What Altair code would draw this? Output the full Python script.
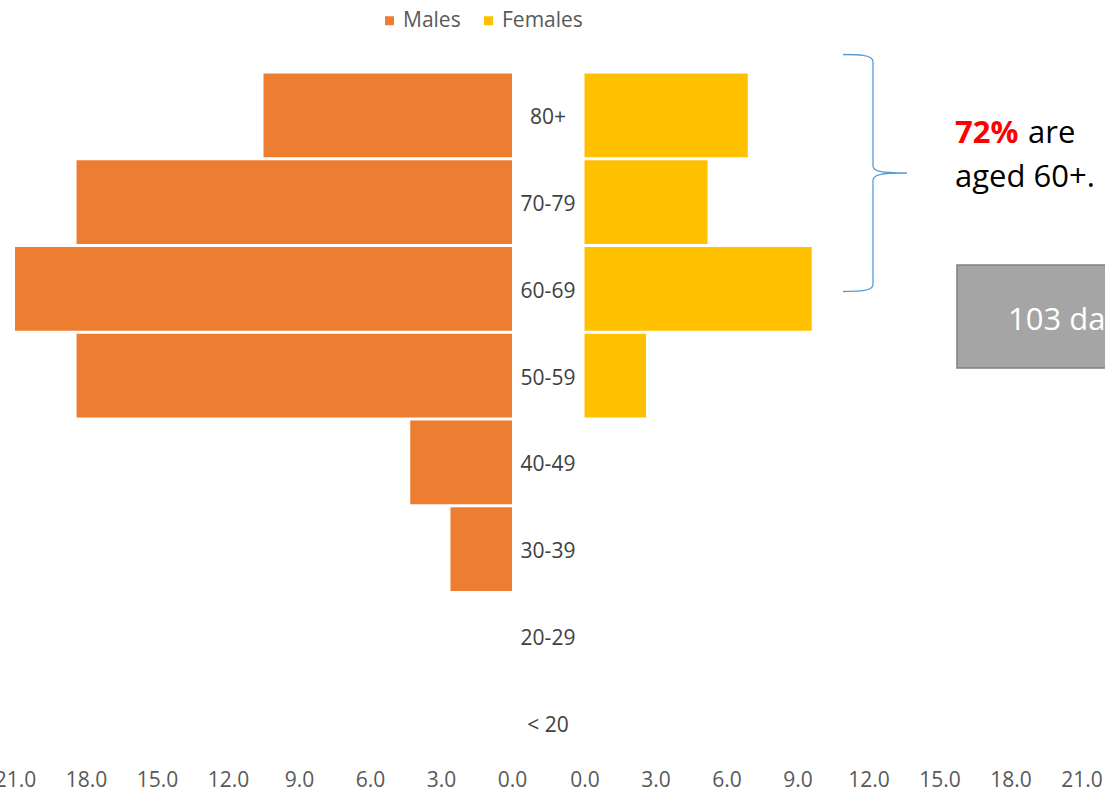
import altair as alt
import pandas as pd

# Age bands, top to bottom
ages = ["80+", "70-79", "60-69", "50-59", "40-49", "30-39", "20-29", "< 20"]
# Share of cases (%) per age band
males = [10.5, 18.4, 21.0, 18.4, 4.3, 2.6, 0.0, 0.0]
females = [6.9, 5.2, 9.6, 2.6, 0.0, 0.0, 0.0, 0.0]

sexes = ["Males", "Females"]
sex_colors = ["#ED7D31", "#FFC000"]
tick_values = [0, 3, 6, 9, 12, 15, 18, 21]

# Call-out texts
pct_note = ["72%"]
are_note = ["are"]
aged_note = ["aged 60+."]
box_note = ["103 data points"]

FONT = "Open Sans"

df = pd.DataFrame({
    "age": ages * 2,
    "sex": ["Males"] * len(ages) + ["Females"] * len(ages),
    "pct": males + females,
})

y_enc = alt.Y(
    "age:N",
    sort=ages,
    axis=None,
    scale=alt.Scale(paddingInner=0.035, paddingOuter=0.0175),
)

color_enc = alt.Color(
    "sex:N",
    scale=alt.Scale(domain=sexes, range=sex_colors),
    legend=alt.Legend(
        title=None,
        orient="none",
        legendX=369,
        legendY=-62,
        direction="horizontal",
        columns=2,
        symbolType="square",
        symbolSize=81,
        symbolStrokeWidth=0,
        labelFont=FONT,
        labelFontSize=21,
        labelColor="#595959",
        labelOffset=3,
        columnPadding=17,
        padding=0,
    ),
)


def pct_axis():
    return alt.Axis(
        values=tick_values,
        format=".1f",
        orient="bottom",
        domain=False,
        ticks=False,
        grid=False,
        title=None,
        labelFont=FONT,
        labelFontSize=21,
        labelColor="#595959",
        labelPadding=3,
        labelOverlap=False,
        labelFlush=False,
        labelBound=False,
    )


# Left half: males, growing leftwards from the centre column
male = (
    alt.Chart(df)
    .transform_filter(alt.datum.sex == "Males")
    .mark_bar()
    .encode(
        x=alt.X("pct:Q", scale=alt.Scale(domain=[0, 21], range=[502, 5], nice=False), axis=pct_axis()),
        y=y_enc,
        color=color_enc,
    )
)

# Right half: females, growing rightwards
female = (
    alt.Chart(df)
    .transform_filter(alt.datum.sex == "Females")
    .mark_bar()
    .encode(
        x=alt.X("pct:Q", scale=alt.Scale(domain=[0, 21], range=[574.5, 1071.5], nice=False), axis=pct_axis()),
        y=y_enc,
        color=color_enc,
    )
)

# Age band names in the gap between the halves
age_labels = (
    alt.Chart(pd.DataFrame({"age": ages}))
    .mark_text(font=FONT, fontSize=21, color="#404040", align="center", baseline="middle", dy=3)
    .encode(y=y_enc, x=alt.value(538), text="age:N")
)

# Curly brace grouping the 60+ bands (unit-box path, scaled by size)
BRACE_PATH = (
    "M-0.27,-1 C-0.127,-1 -0.017,-0.995 -0.017,-0.941 "
    "L-0.017,-0.063 C-0.017,-0.013 0.042,0 0.27,0 "
    "M0.27,0 C0.042,0 -0.017,0.013 -0.017,0.063 "
    "L-0.017,0.941 C-0.017,0.995 -0.127,1 -0.27,1"
)
brace = (
    alt.Chart(pd.DataFrame({"k": [0]}))
    .mark_point(shape=BRACE_PATH, size=237 ** 2, filled=False, stroke="#5B9BD5", strokeWidth=1.3, opacity=1)
    .encode(x=alt.value(865), y=alt.value(101))
)

pct_text = (
    alt.Chart(pd.DataFrame({"t": pct_note}))
    .mark_text(font=FONT, fontSize=31, fontWeight="bold", color="#FF0000", align="left", baseline="alphabetic")
    .encode(x=alt.value(945), y=alt.value(71), text="t:N")
)
are_text = (
    alt.Chart(pd.DataFrame({"t": are_note}))
    .mark_text(font=FONT, fontSize=31, color="#000000", align="left", baseline="alphabetic")
    .encode(x=alt.value(1018), y=alt.value(71), text="t:N")
)
aged_text = (
    alt.Chart(pd.DataFrame({"t": aged_note}))
    .mark_text(font=FONT, fontSize=31, color="#000000", align="left", baseline="alphabetic")
    .encode(x=alt.value(945), y=alt.value(115), text="t:N")
)

# Grey summary box running off the right edge
box = (
    alt.Chart(pd.DataFrame({"k": [0]}))
    .mark_rect(fill="#A5A5A5", stroke="#7F7F7F", strokeWidth=1.5)
    .encode(x=alt.value(947), x2=alt.value(1120), y=alt.value(193), y2=alt.value(296))
)
box_text = (
    alt.Chart(pd.DataFrame({"t": box_note}))
    .mark_text(font=FONT, fontSize=31, color="#FFFFFF", align="left", baseline="alphabetic")
    .encode(x=alt.value(998), y=alt.value(258), text="t:N")
)

chart = (
    alt.layer(male, female, age_labels, brace, pct_text, are_text, aged_text, box, box_text)
    .resolve_scale(x="independent")
    .properties(
        width=1095,
        height=694,
        padding={"left": 10, "top": 72, "right": 0, "bottom": 25},
        autosize=alt.AutoSizeParams(type="none"),
        background="white",
    )
    .configure(font=FONT)
    .configure_view(stroke="transparent", strokeWidth=0)
)

chart.save("out.html", embed_options={"renderer": "svg", "actions": False})
